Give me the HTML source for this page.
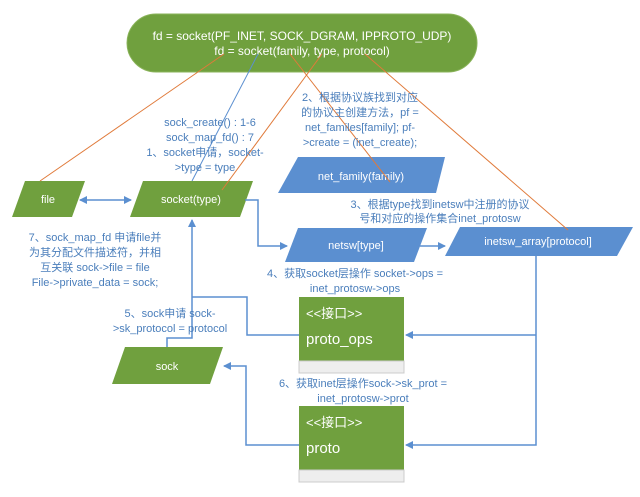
<!DOCTYPE html>
<html><head><meta charset="utf-8"><style>
html,body{margin:0;padding:0;background:#fff}
svg text{font-family:"Liberation Sans","Noto Sans CJK SC",sans-serif}
</style></head><body>
<svg width="640" height="492" viewBox="0 0 640 492" xmlns="http://www.w3.org/2000/svg">
<defs>
<marker id="a" markerWidth="8" markerHeight="8" refX="7" refY="4" orient="auto" markerUnits="userSpaceOnUse"><path d="M0,0 L8,4 L0,8 Z" fill="#5b8fd0"/></marker>
<marker id="b" markerWidth="8" markerHeight="8" refX="1" refY="4" orient="auto" markerUnits="userSpaceOnUse"><path d="M8,0 L0,4 L8,8 Z" fill="#5b8fd0"/></marker>
</defs>
<rect x="127" y="14" width="350" height="58" rx="29" fill="#70a03e" stroke="#8ab35a"/>
<text x="302" y="40" font-size="12" fill="#fff" text-anchor="middle">fd = socket(PF_INET, SOCK_DGRAM, IPPROTO_UDP)</text>
<text x="302" y="55" font-size="12" fill="#fff" text-anchor="middle">fd = socket(family, type, protocol)</text>
<polygon points="25,181 85,181 72,217 12,217" fill="#70a03e"/>
<text x="48" y="203" font-size="11" fill="#fff" text-anchor="middle">file</text>
<polygon points="143,181 253,181 240,217 130,217" fill="#70a03e"/>
<text x="191" y="203" font-size="11" fill="#fff" text-anchor="middle">socket(type)</text>
<polygon points="298,157 445,157 436,193 278,193" fill="#5b8fd0"/>
<text x="361" y="180" font-size="11" fill="#fff" text-anchor="middle">net_family(family)</text>
<polygon points="298,228 427,228 414,262 285,262" fill="#5b8fd0"/>
<text x="356" y="249" font-size="11" fill="#fff" text-anchor="middle">netsw[type]</text>
<polygon points="460,227 633,227 617,256 445,256" fill="#5b8fd0"/>
<text x="538" y="245" font-size="11" fill="#fff" text-anchor="middle">inetsw_array[protocol]</text>
<polygon points="125,347 223,347 210,384 112,384" fill="#70a03e"/>
<text x="167" y="370" font-size="11" fill="#fff" text-anchor="middle">sock</text>
<rect x="299" y="297" width="105" height="64" fill="#70a03e"/>
<rect x="299" y="361" width="105" height="12" fill="#eee" stroke="#ccc"/>
<text x="306" y="318" font-size="13" fill="#fff">&lt;&lt;接口&gt;&gt;</text>
<text x="306" y="344" font-size="15" fill="#fff">proto_ops</text>
<rect x="299" y="406" width="105" height="64" fill="#70a03e"/>
<rect x="299" y="470" width="105" height="12" fill="#eee" stroke="#ccc"/>
<text x="306" y="427" font-size="13" fill="#fff">&lt;&lt;接口&gt;&gt;</text>
<text x="306" y="453" font-size="15" fill="#fff">proto</text>
<g stroke="#e07a3a" stroke-width="1" fill="none">
<line x1="224" y1="54" x2="40" y2="181"/>
<line x1="322" y1="54" x2="222" y2="190"/>
<line x1="290" y1="54" x2="390" y2="182"/>
<line x1="365" y1="54" x2="568" y2="230"/>
</g>
<line x1="258" y1="54" x2="192" y2="181" stroke="#5b8fd0"/>
<g stroke="#5b8fd0" stroke-width="1.5" fill="none">
<line x1="80" y1="200" x2="131" y2="200" marker-start="url(#b)" marker-end="url(#a)"/>
<polyline points="245,200 258,200 258,246 287,246" marker-end="url(#a)"/>
<line x1="420" y1="246" x2="445" y2="246" marker-end="url(#a)"/>
<polyline points="536,256 536,445 406,445" marker-end="url(#a)"/>
<line x1="536" y1="335" x2="406" y2="335" marker-end="url(#a)"/>
<polyline points="299,335 247,335 247,297 192,297"/>
<polyline points="167,347 167,338 192,338 192,220" marker-end="url(#a)"/>
<polyline points="299,445 246,445 246,366 224,366" marker-end="url(#a)"/>
</g>
<g font-size="11" fill="#4a7ebb" text-anchor="middle">
<text x="210" y="126">sock_create() : 1-6</text>
<text x="210" y="141">sock_map_fd() : 7</text>
<text x="205" y="156">1、socket申请，socket-</text>
<text x="205" y="171">&gt;type = type</text>
<text x="360" y="101">2、根据协议族找到对应</text>
<text x="360" y="116">的协议主创建方法，pf =</text>
<text x="360" y="131">net_familes[family]; pf-</text>
<text x="360" y="146">&gt;create = (inet_create);</text>
<text x="440" y="208">3、根据type找到inetsw中注册的协议</text>
<text x="440" y="222">号和对应的操作集合inet_protosw</text>
<text x="95" y="241">7、sock_map_fd 申请file并</text>
<text x="95" y="256">为其分配文件描述符，并相</text>
<text x="95" y="271">互关联  sock-&gt;file = file</text>
<text x="95" y="286">File-&gt;private_data = sock;</text>
<text x="355" y="277">4、获取socket层操作 socket-&gt;ops =</text>
<text x="355" y="292">inet_protosw-&gt;ops</text>
<text x="170" y="317">5、sock申请 sock-</text>
<text x="170" y="332">&gt;sk_protocol = protocol</text>
<text x="363" y="387">6、获取inet层操作sock-&gt;sk_prot =</text>
<text x="363" y="402">inet_protosw-&gt;prot</text>
</g>
</svg>
</body></html>
